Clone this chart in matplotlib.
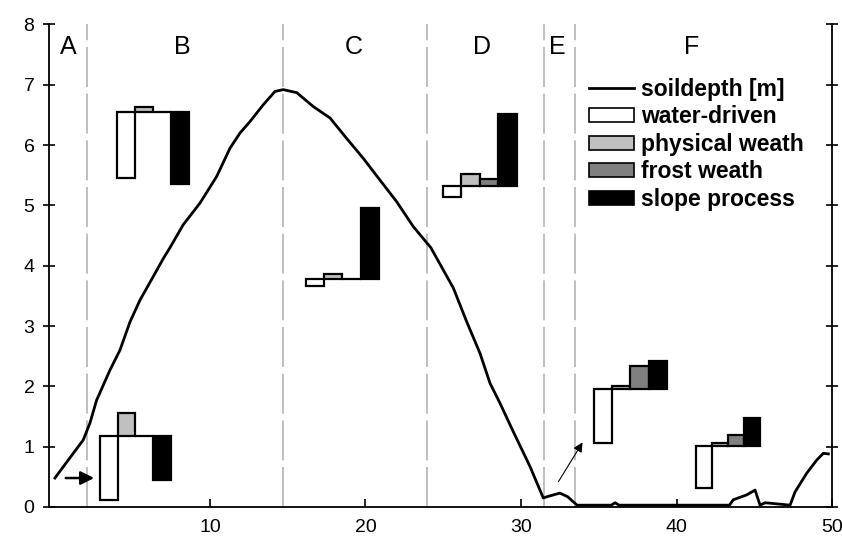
# -*- coding: utf-8 -*-
"""
Soil depth along a hillslope transect with small process bar insets
for each landscape unit (A-F).
"""
import matplotlib
matplotlib.use("Agg")
import matplotlib.pyplot as plt
from matplotlib.patches import Patch

plt.rcParams['font.family'] = ['Liberation Sans', 'DejaVu Sans']

# soil depth profile (distance, depth in m)
depth_x = [0.03, 1.21, 1.85, 2.28, 2.71, 3.57, 4.21, 4.86, 5.50, 6.35,
           7.00, 7.43, 8.28, 9.36, 10.43, 11.29, 11.93, 12.57, 13.43,
           14.18, 14.71, 15.58, 16.64, 17.72, 18.79, 19.86, 20.93, 22.01,
           23.07, 24.20, 25.65, 26.51, 27.36, 28.01, 28.65, 29.50, 30.58,
           31.43, 31.80, 32.50, 33.00, 33.30, 33.60, 35.80, 36.05, 36.30,
           43.40, 43.65, 44.51, 45.05, 45.37, 45.69, 46.12, 47.30, 47.62,
           48.37, 49.02, 49.44, 49.76]
depth_y = [0.48, 0.89, 1.11, 1.39, 1.77, 2.27, 2.60, 3.07, 3.43, 3.82,
           4.12, 4.30, 4.68, 5.04, 5.48, 5.95, 6.20, 6.39, 6.67,
           6.89, 6.92, 6.87, 6.64, 6.45, 6.11, 5.78, 5.42, 5.06,
           4.65, 4.30, 3.63, 3.07, 2.55, 2.05, 1.72, 1.25, 0.67,
           0.15, 0.18, 0.23, 0.17, 0.10, 0.03, 0.03, 0.07, 0.03,
           0.03, 0.12, 0.20, 0.28, 0.03, 0.07, 0.06, 0.03, 0.25,
           0.56, 0.78, 0.89, 0.88]

# unit boundaries and names
bounds = [2.1, 14.7, 23.95, 31.5, 33.5]
units = ['A', 'B', 'C', 'D', 'E', 'F']
unit_x = [0.87, 8.2, 19.26, 27.49, 32.31, 41.0]

# process insets: left edge, bar width, baseline, then relative values
processes = ['water-driven', 'physical weath', 'frost weath', 'slope process']
colors = ['white', '#c0c0c0', '#808080', 'black']
group_x = [4.02, 2.93, 16.17, 24.98, 34.69, 41.25]
group_w = [1.16, 1.14, 1.17, 1.19, 1.17, 1.03]
group_base = [6.55, 1.17, 3.78, 5.32, 1.95, 1.01]
water = [-1.10, -1.05, -0.12, -0.18, -0.89, -0.70]
phys = [0.08, 0.38, 0.08, 0.20, 0.05, 0.05]
frost = [0.0, 0.0, 0.0, 0.12, 0.39, 0.19]
slope = [-1.20, -0.72, 1.18, 1.20, 0.47, 0.46]

fig = plt.figure(figsize=(8.42, 5.37), dpi=100)
ax = fig.add_axes([0.0582, 0.0559, 0.930, 0.8985])

# unit boundaries
for b in bounds:
    ax.axvline(b, color='#b4b4b4', lw=1.2, ls=(0, (24, 4)), zorder=1)
for name, ux in zip(units, unit_x):
    ax.text(ux, 7.63, name, fontsize=18, ha='center', va='center')

# soil depth line
depth_line, = ax.plot(depth_x, depth_y, color='black', lw=2.0,
                      zorder=3, clip_on=False)

# inset bars
for g in range(len(group_x)):
    vals = [water[g], phys[g], frost[g], slope[g]]
    for k in range(4):
        ax.bar(group_x[g] + k * group_w[g], vals[k], group_w[g],
               bottom=group_base[g], align='edge', color=colors[k],
               edgecolor='black', linewidth=1.6, zorder=4)

# arrows pointing to the profile
ax.annotate('', xy=(2.73, 0.48), xytext=(0.55, 0.48),
            arrowprops=dict(arrowstyle='-|>', color='black', lw=1.8,
                            mutation_scale=20))
ax.annotate('', xy=(34.05, 1.11), xytext=(32.31, 0.38),
            arrowprops=dict(arrowstyle='-|>', color='black', lw=0.8,
                            mutation_scale=14))

# axes
ax.set_xlim(-0.35, 50)
ax.set_ylim(0, 8)
ax.set_xticks([10, 20, 30, 40, 50])
ax.set_yticks(range(9))
ax.spines['top'].set_visible(False)
for s in ['left', 'right', 'bottom']:
    ax.spines[s].set_linewidth(1.3)
ax.tick_params(axis='y', direction='inout', length=9, width=1.2,
               labelsize=14, pad=6, right=True)
ax.tick_params(axis='x', direction='in', length=6, width=1.2,
               labelsize=14, pad=9)

# legend
handles = [depth_line] + [Patch(facecolor=c, edgecolor='black', lw=1.2)
                          for c in colors]
labels = ['soildepth [m]'] + processes
ax.legend(handles, labels, loc='upper left', bbox_to_anchor=(0.69, 0.89),
          frameon=False, borderpad=0, borderaxespad=0, handlelength=1.95,
          handleheight=0.55, handletextpad=0.3, labelspacing=0.2,
          prop={'size': 16.5, 'weight': 'bold'})

plt.savefig('out.png', dpi=100)
